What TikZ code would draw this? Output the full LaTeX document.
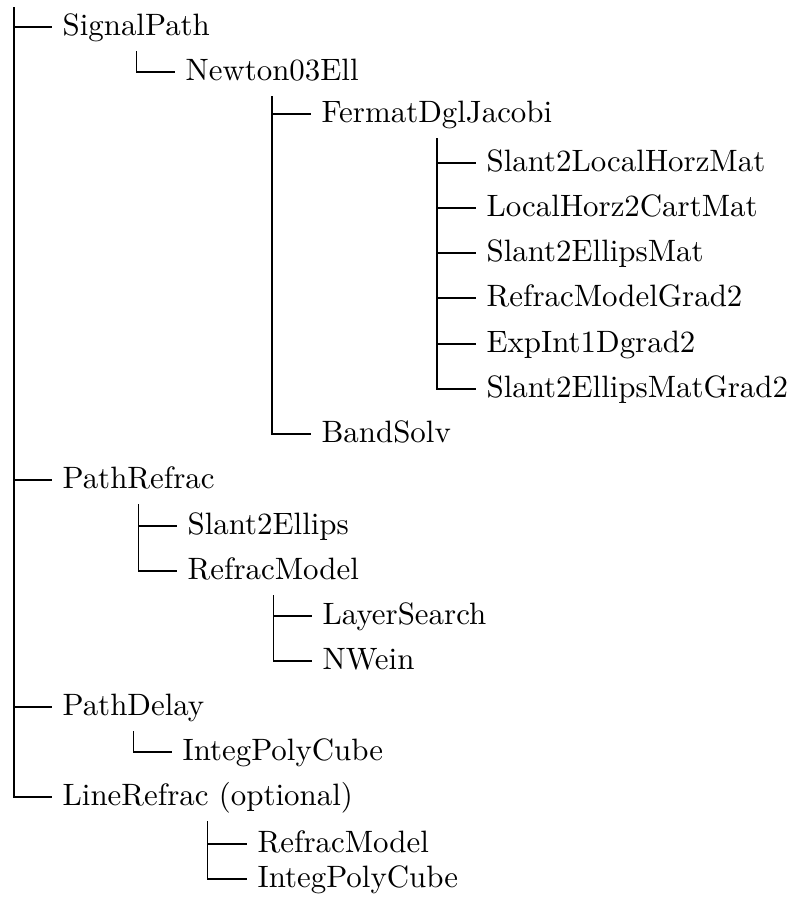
\documentclass[tikz,border=0pt]{standalone}
\usepackage{tikz}
\usetikzlibrary{positioning, calc}

\begin{document}
\begin{tikzpicture}[x=0.3236pt, y=-0.3236pt,
    entry/.style={anchor=west, inner sep=0pt, text height=7pt, text depth=1.2pt},
    branch/.style={line width=0.4pt}]
    \useasboundingbox (0, 0) rectangle (793, 901);
    \coordinate (top) at (14, 7);

    % first level
    \node[entry] (sig) at (62, 27) {SignalPath};
    \node[entry] (pre) at (62, 480) {PathRefrac};
    \node[entry] (pdl) at (62, 707) {PathDelay};
    \node[entry] (lre) at (62, 797) {LineRefrac (optional)};

    % SignalPath branch
    \node[entry] (new) at (185, 72) {Newton03Ell};
    \node[entry] (fdj) at (321, 114) {FermatDglJacobi};
    \node[entry] (bsv) at (321, 434) {BandSolv};
    \node[entry] (slh) at (486, 163) {Slant2LocalHorzMat};
    \node[entry] (lhc) at (486, 208) {LocalHorz2CartMat};
    \node[entry] (sem) at (486, 253) {Slant2EllipsMat};
    \node[entry] (rmg) at (486, 298) {RefracModelGrad2};
    \node[entry] (eig) at (486, 344) {ExpInt1Dgrad2};
    \node[entry] (smg) at (486, 389) {Slant2EllipsMatGrad2};

    % PathRefrac branch
    \node[entry] (sel) at (187, 526) {Slant2Ellips};
    \node[entry] (rfm) at (187, 571) {RefracModel};
    \node[entry] (lys) at (322, 616) {LayerSearch};
    \node[entry] (nwn) at (322, 661) {NWein};

    % PathDelay and LineRefrac branches
    \node[entry] (ipc) at (182, 752) {IntegPolyCube};
    \node[entry] (rfl) at (257, 844) {RefracModel};
    \node[entry] (ipl) at (257, 879) {IntegPolyCube};

    % connectors
    \foreach \c in {sig, pre, pdl, lre}
        \draw[branch] (top) |- ([xshift=-3.3pt]\c.west);
    \foreach \p/\c in {sig/new, new/fdj, new/bsv, fdj/slh, fdj/lhc, fdj/sem, fdj/rmg, fdj/eig, fdj/smg,
                       pre/sel, pre/rfm, rfm/lys, rfm/nwn, pdl/ipc, lre/rfl, lre/ipl}
        \draw[branch] ([yshift=-3.5pt]\p.south) |- ([xshift=-3.3pt]\c.west);
\end{tikzpicture}
\end{document}
